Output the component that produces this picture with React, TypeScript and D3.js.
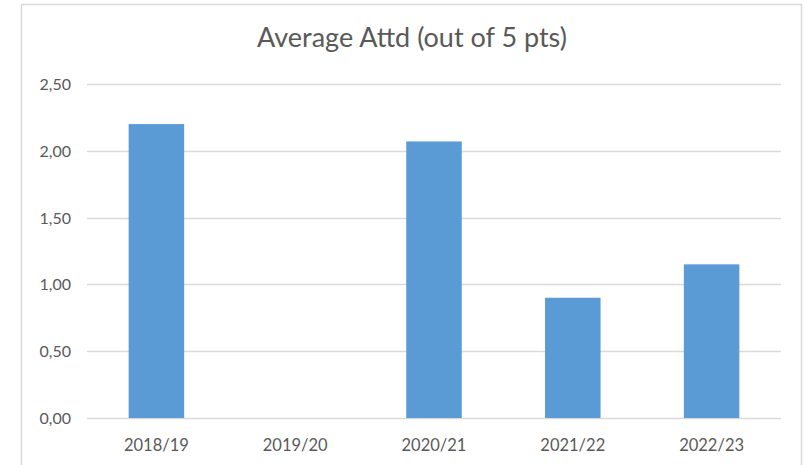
import React from "react";
import * as d3 from "d3";

const categories = ["2018/19", "2019/20", "2020/21", "2021/22", "2022/23"];
const values: (number | null)[] = [2.2, null, 2.07, 0.9, 1.15];
const yTicks = [0, 0.5, 1, 1.5, 2, 2.5];
const title = "Average Attd (out of 5 pts)";

export default function App() {
  const W = 805, H = 465;
  const x = d3.scaleBand<string>().domain(categories).range([87, 781]).paddingInner(0.6).paddingOuter(0.3);
  const y = d3.scaleLinear().domain([0, 2.5]).range([418, 84]);
  const fmt = (v: number) => d3.format(".2f")(v).replace(".", ",");
  const font = "Lato, 'Open Sans', sans-serif";
  return (
    <svg width={W} height={H} style={{ position: "absolute", left: 0, top: 0, background: "#fff" }}>
      <rect x={21.5} y={4.5} width={780} height={470} fill="#fff" stroke="#d9d9d9" strokeWidth={1.5} />
      <text x={412} y={47} textAnchor="middle" fontFamily={font} fontSize={27} fill="#595959">{title}</text>
      {yTicks.map((t) => (
        <g key={t}>
          <line x1={87} x2={781} y1={Math.round(y(t)) + 0.5} y2={Math.round(y(t)) + 0.5} stroke="#d9d9d9" strokeWidth={1.3} />
          <text x={71} y={y(t) + 6} textAnchor="end" fontFamily={font} fontSize={16} fill="#595959">{fmt(t)}</text>
        </g>
      ))}
      {categories.map((c, i) => {
        const v = values[i];
        return (
          <g key={c}>
            {v != null && v > 0 && (
              <rect x={x(c)} y={y(v)} width={x.bandwidth()} height={y(0) - y(v)} fill="#5b9bd5" />
            )}
            <text x={(x(c) as number) + x.bandwidth() / 2} y={451} textAnchor="middle" fontFamily={font} fontSize={16.5} fill="#595959">{c}</text>
          </g>
        );
      })}
    </svg>
  );
}
